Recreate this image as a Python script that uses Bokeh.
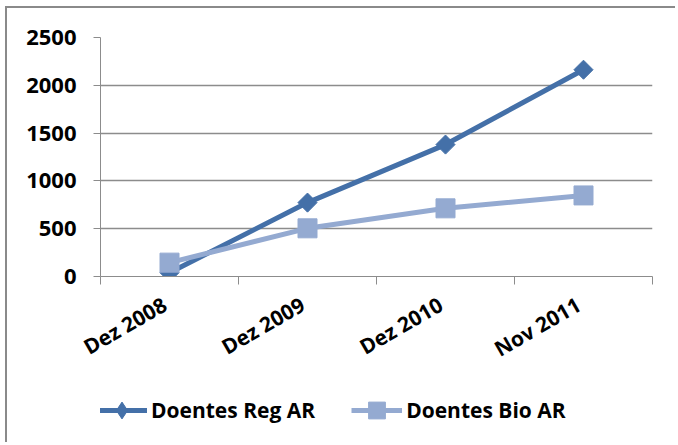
import math
from bokeh.plotting import figure
from bokeh.layouts import column
from bokeh.models import Range1d, FixedTicker, Legend, LegendItem, ColumnDataSource
from bokeh.embed import file_html
from bokeh.resources import INLINE

categories = ["Dez 2008", "Dez 2009", "Dez 2010", "Nov 2011"]
reg_values = [40, 773, 1380, 2163]
bio_values = [145, 504, 713, 848]
y_ticks = [0, 500, 1000, 1500, 2000, 2500]
series_names = ["Doentes Reg AR", "Doentes Bio AR"]

REG_COLOR = "#4470A8"
BIO_COLOR = "#94AAD1"
GRID = "#8C8C8C"
FONT = "Open Sans"

xs = [i + 0.5 for i in range(len(categories))]
label_pos = [x - 0.035 for x in xs]

p = figure(width=668, height=380, output_backend="svg", toolbar_location=None,
           x_range=Range1d(0, len(categories)), y_range=Range1d(0, 2500),
           min_border_left=93, min_border_right=23, min_border_top=29, min_border_bottom=112)
p.outline_line_color = None
p.background_fill_color = "white"
p.border_fill_color = "white"

# x axis: labels at category centres, ticks at boundaries (minor ticks)
p.xaxis.ticker = FixedTicker(ticks=label_pos, minor_ticks=list(range(len(categories) + 1)))
p.xaxis.major_label_overrides = {x: c for x, c in zip(label_pos, categories)}
p.xaxis.major_tick_out = 0
p.xaxis.major_tick_in = 0
p.xaxis.minor_tick_out = 8
p.xaxis.minor_tick_in = 0
p.xaxis.minor_tick_line_color = GRID
p.xaxis.axis_line_color = GRID
p.xaxis.major_label_orientation = math.pi / 6
p.xaxis.major_label_text_font = FONT
p.xaxis.major_label_text_font_style = "bold"
p.xaxis.major_label_text_font_size = "21px"
p.xaxis.major_label_text_color = "black"
p.xaxis.major_label_standoff = 18

p.yaxis.ticker = FixedTicker(ticks=y_ticks)
p.yaxis.minor_tick_line_color = None
p.yaxis.major_tick_out = 7
p.yaxis.major_tick_in = 0
p.yaxis.major_tick_line_color = GRID
p.yaxis.axis_line_color = GRID
p.yaxis.major_label_text_font = FONT
p.yaxis.major_label_text_font_style = "bold"
p.yaxis.major_label_text_font_size = "22px"
p.yaxis.major_label_text_color = "black"
p.yaxis.major_label_standoff = 17

p.xgrid.grid_line_color = None
p.ygrid.grid_line_color = GRID
p.ygrid.grid_line_width = 1.5

src = ColumnDataSource(dict(x=xs, reg=reg_values, bio=bio_values))

p.line("x", "reg", source=src, line_color=REG_COLOR, line_width=5)
p.scatter("x", "reg", source=src, marker="square", angle=math.pi / 4, size=13.5,
          fill_color=REG_COLOR, line_color=REG_COLOR)
p.line("x", "bio", source=src, line_color=BIO_COLOR, line_width=5)
p.scatter("x", "bio", source=src, marker="square", size=19,
          fill_color=BIO_COLOR, line_color=BIO_COLOR)

# legend strip below the chart; its renderers use the same data but lie outside its view
q = figure(width=668, height=54, output_backend="svg", toolbar_location=None,
           x_range=Range1d(0, 1), y_range=Range1d(0, 1),
           x_axis_location=None, y_axis_location=None,
           min_border_left=0, min_border_right=0, min_border_top=0, min_border_bottom=0)
q.outline_line_color = None
q.xgrid.grid_line_color = None
q.ygrid.grid_line_color = None
ql1 = q.line("x", "reg", source=src, line_color=REG_COLOR, line_width=5)
qm1 = q.scatter("x", "reg", source=src, marker="diamond", fill_color=REG_COLOR, line_color=REG_COLOR)
ql2 = q.line("x", "bio", source=src, line_color=BIO_COLOR, line_width=5)
qm2 = q.scatter("x", "bio", source=src, marker="square", fill_color=BIO_COLOR, line_color=BIO_COLOR)

legend = Legend(items=[LegendItem(label=series_names[0], renderers=[ql1, qm1]),
                       LegendItem(label=series_names[1], renderers=[ql2, qm2])],
                orientation="horizontal", location=(-4, 11),
                glyph_width=51, glyph_height=42, padding=0, margin=0, spacing=36,
                label_standoff=4, border_line_color=None, background_fill_alpha=0,
                label_text_font=FONT, label_text_font_style="bold",
                label_text_font_size="21px", label_text_color="black")
q.add_layout(legend, "center")

layout = column(p, q, spacing=0)
layout.styles = {"border-left": "2px solid #8A8A8A", "border-top": "2px solid #8A8A8A",
                 "margin-left": "5px", "margin-top": "6px"}

open("out.html", "w").write(file_html(layout, INLINE))
